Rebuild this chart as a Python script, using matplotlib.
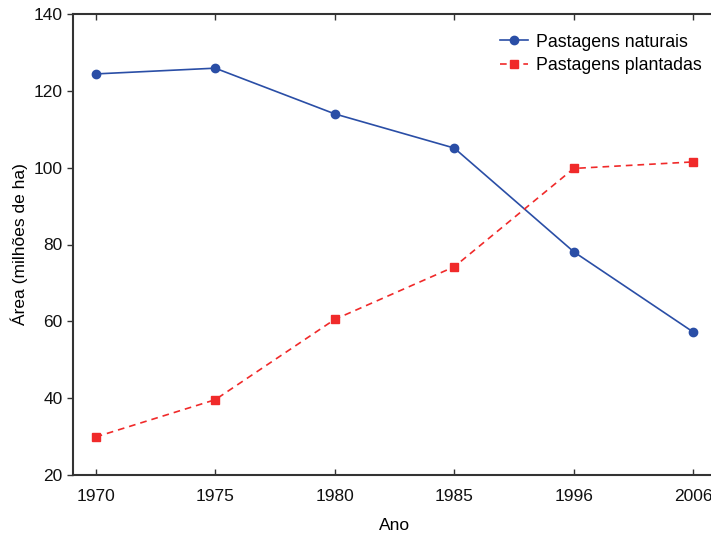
import matplotlib
matplotlib.use("Agg")
import matplotlib.pyplot as plt

anos = ["1970", "1975", "1980", "1985", "1996", "2006"]
naturais = [124.4, 125.9, 114.0, 105.1, 78.1, 57.2]
plantadas = [29.9, 39.6, 60.5, 74.2, 99.8, 101.5]

plt.rcParams['font.family'] = ['Liberation Sans', 'DejaVu Sans']

fig = plt.figure(figsize=(7.11, 5.33), dpi=100)
ax = fig.add_axes([73/711, (533-475)/533, (716-73)/711, (475-14)/533])
x = list(range(len(anos)))
ax.plot(x, naturais, color='#2a4ea6', lw=1.2, marker='o', ms=6, label='Pastagens naturais')
ax.plot(x, plantadas, color='#f02a2a', lw=1.2, ls=(0, (4, 3)), marker='s', ms=6, label='Pastagens plantadas')

ax.set_xlim(-0.19, 5.19)
ax.set_ylim(20, 140)
ax.set_xticks(x)
ax.set_xticklabels(anos)
ax.set_yticks(range(20, 141, 20))
for s in ax.spines.values():
    s.set_color('#333333')
    s.set_linewidth(1.5)
ax.tick_params(axis='x', direction='in', top=True, length=4, width=1, colors='#333333', labelcolor='#111111', labelsize=12.5, pad=10)
ax.tick_params(axis='y', direction='out', length=4, width=1, colors='#333333', labelcolor='#111111', labelsize=12.5)
ax.set_xlabel('Ano', fontsize=12.5, labelpad=10)
ax.set_ylabel('Área (milhões de ha)', fontsize=12.5, labelpad=4)
ax.legend(loc='upper right', bbox_to_anchor=(1.003, 0.992), frameon=False, fontsize=12.8,
          handlelength=1.6, handletextpad=0.45, labelspacing=0.35)
fig.savefig('out.png', dpi=100)
